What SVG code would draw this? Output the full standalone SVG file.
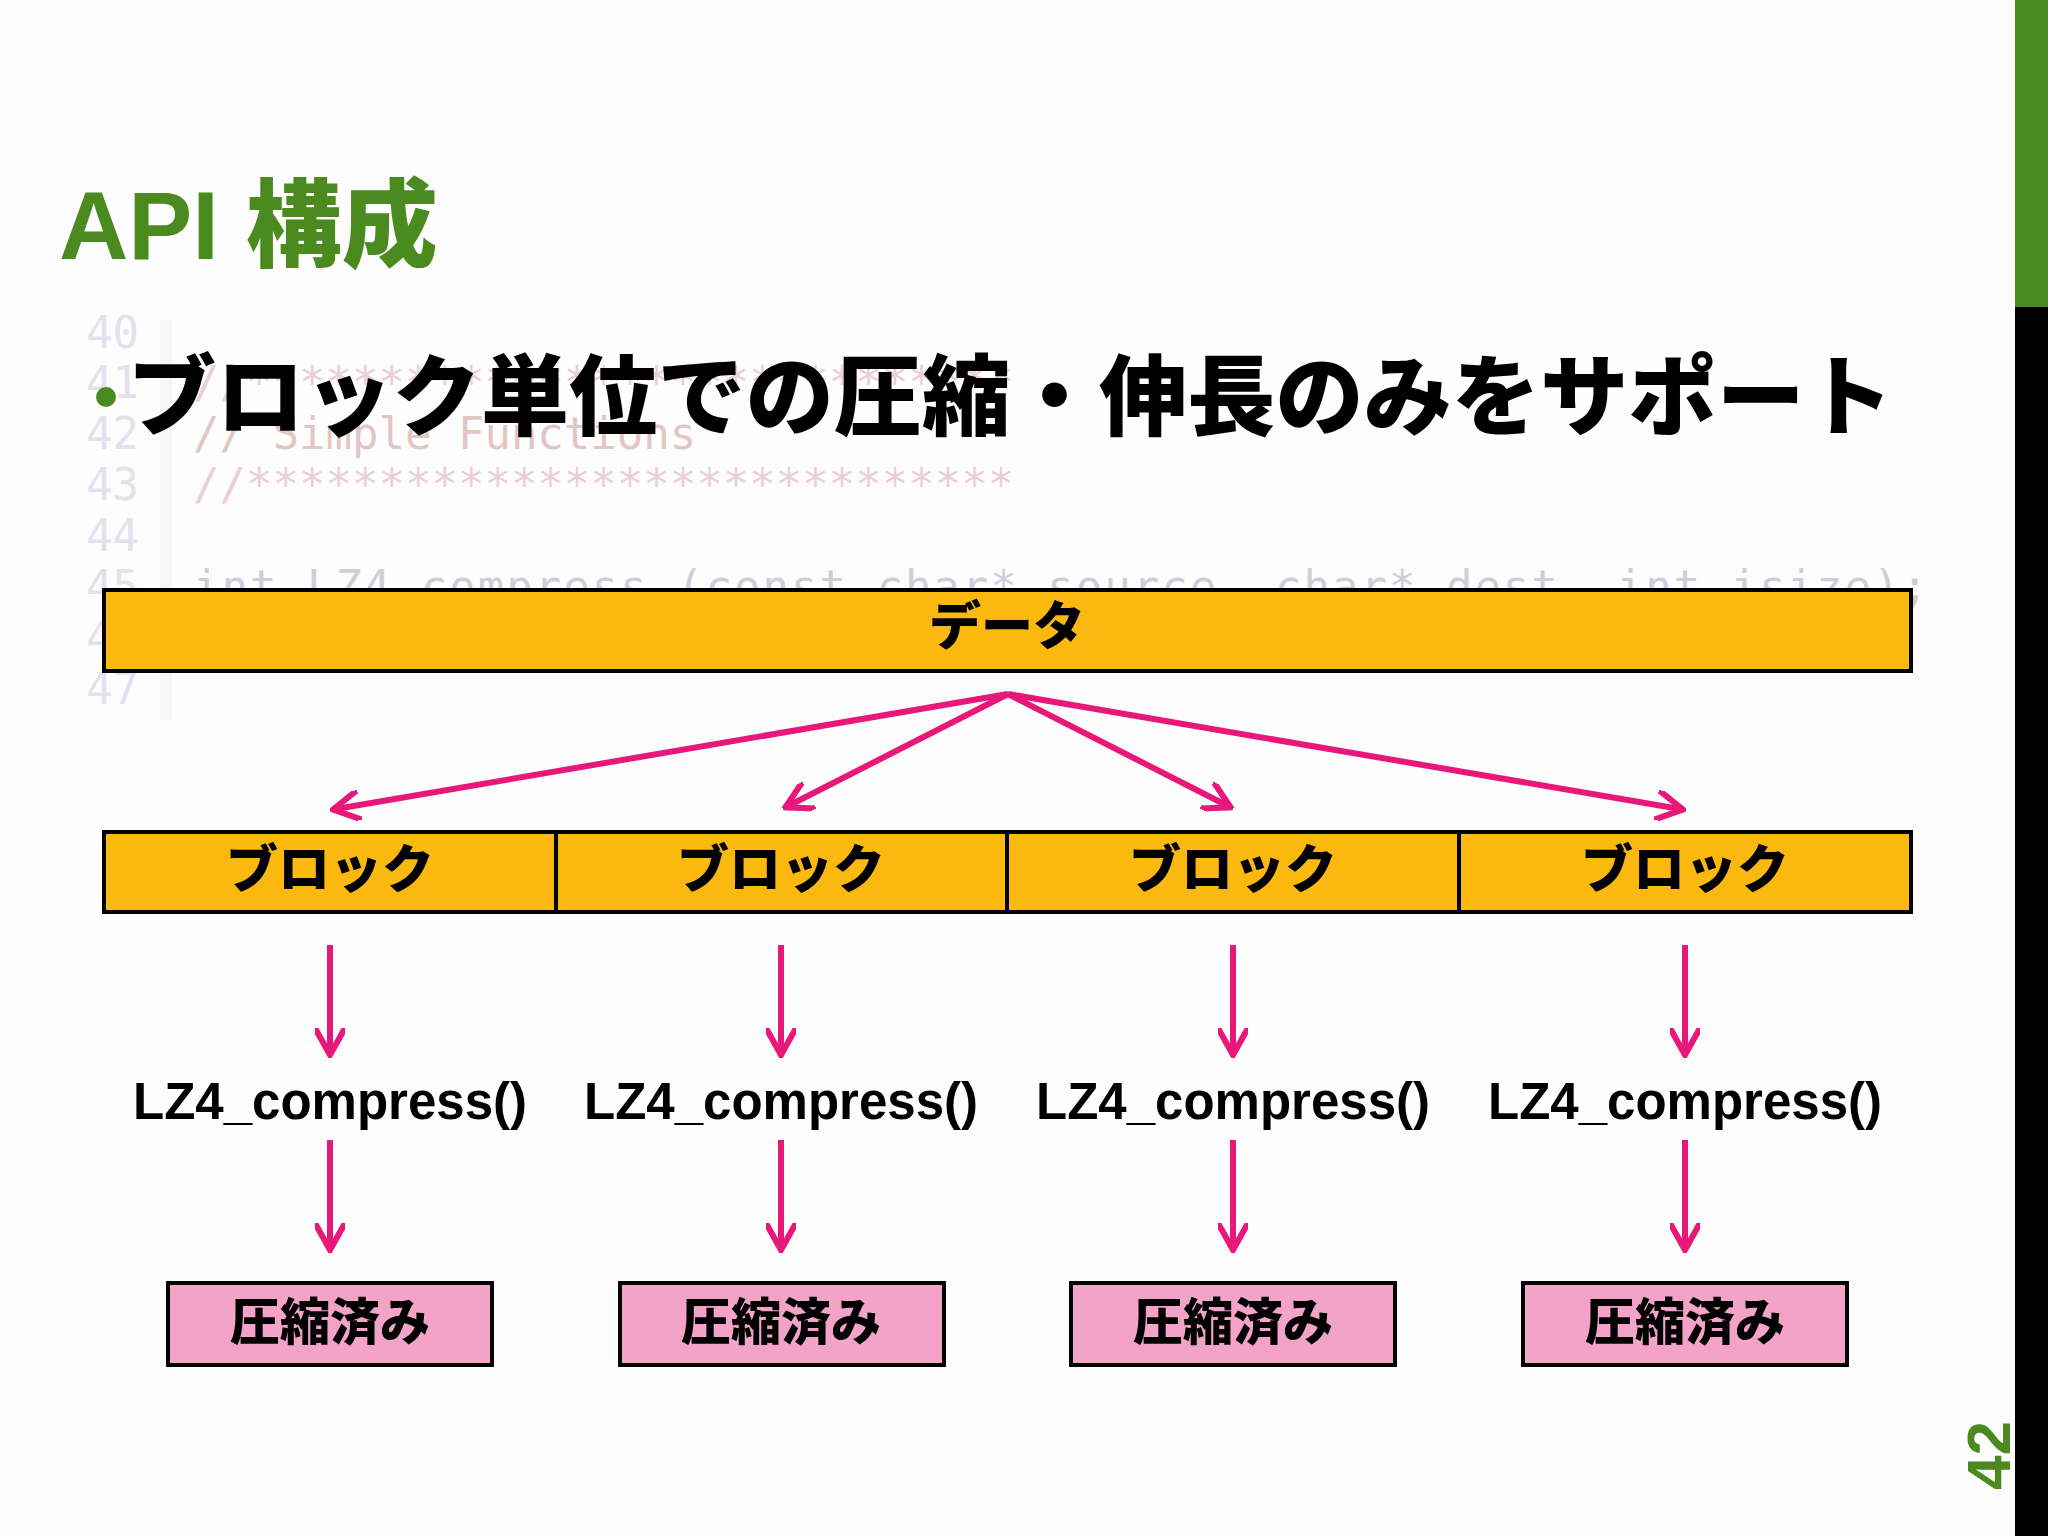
<svg xmlns="http://www.w3.org/2000/svg" width="2048" height="1536" viewBox="0 0 2048 1536">
<defs>
<style>
.jp{font-family:"Noto Sans CJK JP","Noto Sans",sans-serif;font-weight:900;fill:#000}
.code{font-family:"DejaVu Sans Mono","Liberation Mono",monospace;font-size:44px}
.ln{fill:#c8c8dc}
.bar{fill:#fbb80e;stroke:#000;stroke-width:4}
.done{fill:#f4a3c8;stroke:#000;stroke-width:4}
.arr{stroke:#e8187a;stroke-width:6;fill:none;marker-end:url(#ah)}
.fn{font-family:"Liberation Sans",Arial,sans-serif;font-weight:bold;font-size:51px;fill:#000}
</style>
<marker id="ah" viewBox="0 0 10 10" refX="8" refY="5" markerWidth="5" markerHeight="5" orient="auto" markerUnits="strokeWidth"><path d="M0,0 L9,5 L0,10" fill="none" stroke="#e8187a" stroke-width="2"/></marker>
</defs>
<rect width="2048" height="1536" fill="#fdfdfd"/>
<rect x="2015" y="0" width="33" height="307" fill="#4a8a1e"/>
<rect x="2015" y="307" width="33" height="1229" fill="#000"/>
<text transform="translate(2010,1490) rotate(-90)" font-family="Liberation Sans,Arial,sans-serif" font-weight="bold" font-size="62" fill="#4a8a1e">42</text>
<g id="code" opacity="0.5">
<rect x="160" y="320" width="12" height="400" fill="#f0f0f4"/>
<g class="code ln">
<text x="86" y="348">40</text><text x="86" y="398">41</text><text x="86" y="449">42</text><text x="86" y="500">43</text><text x="86" y="551">44</text><text x="86" y="602">45</text><text x="86" y="653">46</text><text x="86" y="704">47</text>
</g>
<text class="code" x="193" y="398" fill="#d9a0b8">//*****************************</text>
<text class="code" x="193" y="449" fill="#c99090">// Simple Functions</text>
<text class="code" x="193" y="500" fill="#d9a0b8">//*****************************</text>
<text class="code" x="193" y="602" fill="#a0a0b8" textLength="1735">int LZ4_compress   (const char* source, char* dest, int isize);</text>
</g>
<text x="59" y="259" font-family="Liberation Sans,'Noto Sans CJK JP',sans-serif" font-weight="900" font-size="96" fill="#4a8a1e">API 構成</text>
<circle cx="106" cy="397" r="10" fill="#4a8a1e"/>
<text class="jp" x="128" y="428" font-size="88" textLength="1765">ブロック単位での圧縮・伸長のみをサポート</text>
<g id="data"><rect class="bar" x="104" y="590" width="1807" height="81"/><text class="jp" x="1007" y="645" font-size="52" text-anchor="middle">データ</text></g>
<g id="blocks">
<g id="b1"><rect class="bar" x="104" y="832" width="452" height="80"/><text class="jp" x="330" y="888" font-size="52" text-anchor="middle">ブロック</text></g>
<g id="b2"><rect class="bar" x="556" y="832" width="451" height="80"/><text class="jp" x="781" y="888" font-size="52" text-anchor="middle">ブロック</text></g>
<g id="b3"><rect class="bar" x="1007" y="832" width="452" height="80"/><text class="jp" x="1233" y="888" font-size="52" text-anchor="middle">ブロック</text></g>
<g id="b4"><rect class="bar" x="1459" y="832" width="452" height="80"/><text class="jp" x="1685" y="888" font-size="52" text-anchor="middle">ブロック</text></g>
</g>
<g id="fns">
<text class="fn" x="330" y="1119" text-anchor="middle">LZ4_compress()</text>
<text class="fn" x="781" y="1119" text-anchor="middle">LZ4_compress()</text>
<text class="fn" x="1233" y="1119" text-anchor="middle">LZ4_compress()</text>
<text class="fn" x="1685" y="1119" text-anchor="middle">LZ4_compress()</text>
</g>
<g id="results">
<g id="r1"><rect class="done" x="168" y="1283" width="324" height="82"/><text class="jp" x="330" y="1340" font-size="50" text-anchor="middle">圧縮済み</text></g>
<g id="r2"><rect class="done" x="620" y="1283" width="324" height="82"/><text class="jp" x="781" y="1340" font-size="50" text-anchor="middle">圧縮済み</text></g>
<g id="r3"><rect class="done" x="1071" y="1283" width="324" height="82"/><text class="jp" x="1233" y="1340" font-size="50" text-anchor="middle">圧縮済み</text></g>
<g id="r4"><rect class="done" x="1523" y="1283" width="324" height="82"/><text class="jp" x="1685" y="1340" font-size="50" text-anchor="middle">圧縮済み</text></g>
</g>
<g id="connectors">
<path class="arr" d="M1008,694 L336,809"/>
<path class="arr" d="M1008,694 L788,806"/>
<path class="arr" d="M1008,694 L1228,806"/>
<path class="arr" d="M1008,694 L1680,809"/>
<path class="arr" d="M330,945 V1052"/><path class="arr" d="M781,945 V1052"/><path class="arr" d="M1233,945 V1052"/><path class="arr" d="M1685,945 V1052"/>
<path class="arr" d="M330,1140 V1247"/><path class="arr" d="M781,1140 V1247"/><path class="arr" d="M1233,1140 V1247"/><path class="arr" d="M1685,1140 V1247"/>
</g>
</svg>
